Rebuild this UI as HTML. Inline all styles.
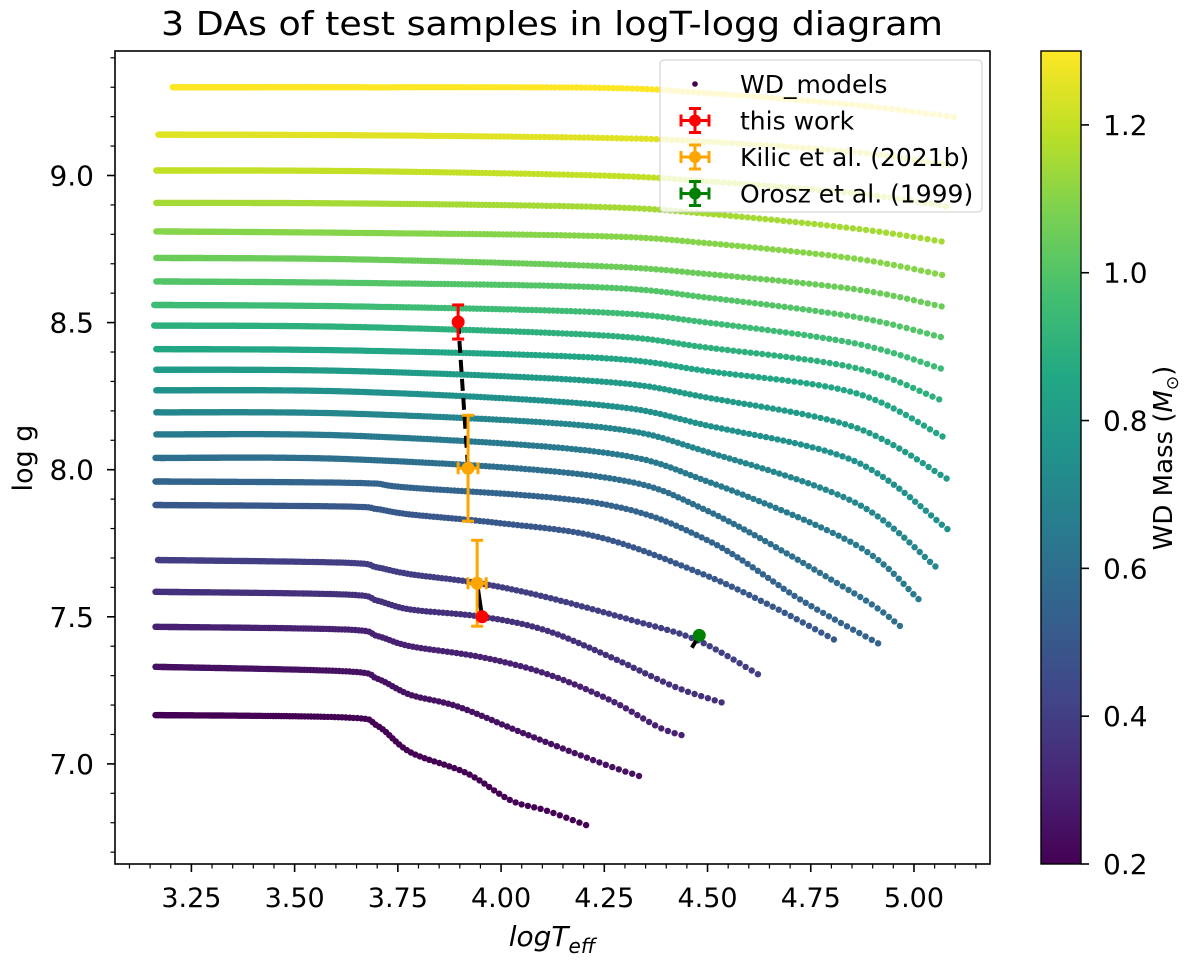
<!DOCTYPE html>
<html><head><meta charset="utf-8"><title>3 DAs of test samples in logT-logg diagram</title>
<style>html,body{margin:0;padding:0;background:#fff;}svg{display:block;font-family:"DejaVu Sans","Liberation Sans",sans-serif;}</style>
</head><body>
<svg id="chart" width="1200" height="963" viewBox="0 0 1200 963" xmlns="http://www.w3.org/2000/svg">
<defs>
<linearGradient id="viridis" x1="0" y1="1" x2="0" y2="0">
<stop offset="0" stop-color="#440154"/><stop offset="0.1" stop-color="#482475"/><stop offset="0.2" stop-color="#414487"/><stop offset="0.3" stop-color="#355f8d"/><stop offset="0.4" stop-color="#2a788e"/><stop offset="0.5" stop-color="#21918c"/><stop offset="0.6" stop-color="#22a884"/><stop offset="0.7" stop-color="#44bf70"/><stop offset="0.8" stop-color="#7ad151"/><stop offset="0.9" stop-color="#bddf26"/><stop offset="1" stop-color="#fde725"/>
</linearGradient>
<clipPath id="plotclip"><rect x="115" y="51" width="875" height="813"/></clipPath>
</defs>
<text x="552" y="35" font-size="33" text-anchor="middle" textLength="782" lengthAdjust="spacingAndGlyphs">3 DAs of test samples in logT-logg diagram</text>
<g id="curves" clip-path="url(#plotclip)"></g>
<g id="links"></g>
<g id="points"></g>
<rect x="115" y="51" width="875" height="813" fill="none" stroke="#000" stroke-width="1.6"/>
<g id="xticks"></g><g id="yticks"></g>
<text transform="translate(32,458) rotate(-90)" font-size="27" text-anchor="middle">log g</text>
<text x="552" y="946" font-size="28" font-style="italic" text-anchor="middle">logT<tspan font-size="20" dy="7">eff</tspan></text>
<g>
<rect x="660" y="60" width="322" height="152" rx="4" fill="#fff" fill-opacity="0.8" stroke="#ccc" stroke-width="1"/>
<g id="legend-entries"></g>
</g>
<rect x="1041" y="51" width="40" height="813" fill="url(#viridis)" stroke="#000" stroke-width="1.4"/>
<g id="cbticks"></g>
<text transform="translate(1172,458) rotate(-90)" font-size="26" text-anchor="middle">WD Mass (<tspan font-style="italic">M</tspan><tspan font-size="17" dy="6">⊙</tspan><tspan dy="-6">)</tspan></text>
</svg>
<script>
// ---- data ----
const masses = [0.2,0.25,0.3,0.35,0.4,0.5,0.55,0.6,0.65,0.7,0.75,0.8,0.85,0.9,0.95,1.0,1.05,1.1,1.15,1.2,1.25,1.3];
const curveT = [
 [3.163,3.62,3.7,3.78,3.916,4.022,4.106,4.206],
 [3.163,3.62,3.7,3.78,3.895,4.053,4.242,4.334],
 [3.163,3.62,3.7,3.78,3.948,4.106,4.264,4.38,4.437],
 [3.163,3.62,3.7,3.78,3.955,4.106,4.264,4.421,4.534],
 [3.169,3.62,3.7,3.78,3.948,4.106,4.316,4.474,4.622],
 [3.163,3.62,3.7,3.78,4.0,4.24,4.48,4.65,4.806],
 [3.163,3.65,3.77,4.24,4.5,4.73,4.913],
 [3.163,3.65,4.24,4.5,4.855,4.966],
 [3.165,3.65,4.24,4.5,4.855,5.011],
 [3.165,3.65,4.24,4.5,4.855,5.052],
 [3.165,3.65,4.24,4.5,4.855,5.081],
 [3.165,3.65,4.24,4.5,4.855,5.079],
 [3.165,3.65,4.24,4.5,4.855,5.069],
 [3.16,3.65,4.24,4.5,4.855,5.061],
 [3.16,3.65,4.24,4.5,4.855,5.065],
 [3.165,3.65,4.24,4.5,4.855,5.065],
 [3.165,3.65,4.24,4.5,4.855,5.067],
 [3.165,3.65,4.24,4.5,4.855,5.068],
 [3.165,3.65,4.24,4.5,4.855,5.067],
 [3.165,3.65,4.24,4.5,4.855,5.077],
 [3.17,3.65,4.24,4.5,4.855,5.085],
 [3.205,3.65,4.24,4.5,4.855,5.097]
];
const curveG = [
 [7.166,7.158,7.13,7.04,6.969,6.877,6.843,6.792],
 [7.33,7.315,7.29,7.235,7.195,7.105,7.003,6.959],
 [7.466,7.457,7.435,7.4,7.364,7.308,7.217,7.126,7.098],
 [7.585,7.576,7.555,7.525,7.50,7.455,7.364,7.262,7.209],
 [7.693,7.684,7.668,7.645,7.614,7.568,7.489,7.421,7.305],
 [7.88,7.875,7.866,7.848,7.818,7.77,7.65,7.54,7.423],
 [7.96,7.955,7.94,7.885,7.76,7.554,7.41],
 [8.04,8.035,7.976,7.86,7.58,7.469],
 [8.12,8.115,8.06,7.96,7.748,7.56],
 [8.195,8.19,8.145,8.06,7.89,7.671],
 [8.27,8.265,8.22,8.15,8.03,7.798],
 [8.34,8.335,8.30,8.245,8.145,7.97],
 [8.41,8.405,8.38,8.335,8.262,8.113],
 [8.49,8.485,8.457,8.415,8.347,8.239],
 [8.56,8.555,8.535,8.50,8.43,8.344],
 [8.64,8.635,8.62,8.585,8.52,8.451],
 [8.72,8.715,8.692,8.665,8.614,8.555],
 [8.81,8.805,8.794,8.77,8.718,8.662],
 [8.907,8.905,8.893,8.87,8.82,8.776],
 [9.017,9.015,9.0,8.98,8.94,8.896],
 [9.139,9.137,9.128,9.115,9.08,9.036],
 [9.30,9.30,9.298,9.28,9.24,9.199]
];
const thisWorkT = [3.896,3.954];
const thisWorkG = [8.502,7.50];
const thisWorkGErr = [0.058,0.0];
const thisWorkTErr = [0.0,0.0];
const kilicT = [3.92,3.942];
const kilicG = [8.005,7.614];
const kilicGErr = [0.18,0.146];
const kilicTErr = [0.024,0.022];
const oroszT = [4.48];
const oroszG = [7.437];
const linkFromT = [3.896,3.954,4.462];
const linkFromG = [8.502,7.50,7.395];
const linkToT = [3.92,3.942,4.48];
const linkToG = [8.005,7.614,7.437];
const xTickVals = [3.25,3.5,3.75,4.0,4.25,4.5,4.75,5.0];
const xTickLabels = ["3.25","3.50","3.75","4.00","4.25","4.50","4.75","5.00"];
const yTickVals = [7.0,7.5,8.0,8.5,9.0];
const yTickLabels = ["7.0","7.5","8.0","8.5","9.0"];
const cbTickVals = [0.2,0.4,0.6,0.8,1.0,1.2];
const cbTickLabels = ["0.2","0.4","0.6","0.8","1.0","1.2"];
const legendLabels = ["WD_models","this work","Kilic et al. (2021b)","Orosz et al. (1999)"];

// ---- scales ----
const X = v => 191.4 + (v - 3.25) * 412.9;
const Y = v => 175.5 + (9 - v) * 294.2;
const C = m => 864 - (m - 0.2) / 1.1 * 813;
const VIR = ["#440154","#482475","#414487","#355f8d","#2a788e","#21918c","#22a884","#44bf70","#7ad151","#bddf26","#fde725"];
function hex(h){return [parseInt(h.substr(1,2),16),parseInt(h.substr(3,2),16),parseInt(h.substr(5,2),16)];}
function viridis(t){t=Math.max(0,Math.min(1,t));const f=t*10,i=Math.min(9,Math.floor(f)),r=f-i;const a=hex(VIR[i]),b=hex(VIR[i+1]);return "rgb("+a.map((c,k)=>Math.round(c+(b[k]-c)*r)).join(",")+")";}
const NS="http://www.w3.org/2000/svg";
function mk(tag,attrs,parent){const e=document.createElementNS(NS,tag);for(const k in attrs)e.setAttribute(k,attrs[k]);parent.appendChild(e);return e;}

// ---- curves ----
const gC=document.getElementById("curves");
masses.forEach((m,ci)=>{
  const P=curveT[ci].map((t,i)=>[X(t),Y(curveG[ci][i])]);
  const fine=[];
  for(let i=0;i<P.length-1;i++){
    const p0=P[Math.max(0,i-1)],p1=P[i],p2=P[i+1],p3=P[Math.min(P.length-1,i+2)];
    for(let s=0;s<20;s++){const t=s/20,t2=t*t,t3=t2*t;
      fine.push([0.5*((2*p1[0])+(-p0[0]+p2[0])*t+(2*p0[0]-5*p1[0]+4*p2[0]-p3[0])*t2+(-p0[0]+3*p1[0]-3*p2[0]+p3[0])*t3),
                 0.5*((2*p1[1])+(-p0[1]+p2[1])*t+(2*p0[1]-5*p1[1]+4*p2[1]-p3[1])*t2+(-p0[1]+3*p1[1]-3*p2[1]+p3[1])*t3)]);}
  }
  fine.push(P[P.length-1]);
  const L=[0];for(let i=1;i<fine.length;i++)L.push(L[i-1]+Math.hypot(fine[i][0]-fine[i-1][0],fine[i][1]-fine[i-1][1]));
  const tot=L[L.length-1];
  const g=mk("g",{fill:viridis((m-0.2)/1.1)},gC);
  
  
  const N=Math.round(tot/3.0);let j=1;
  for(let k=0;k<=N;k++){
    const u=k/N;const d=tot*(u*u*u*0.7+u*0.3);
    while(j<L.length-1&&L[j]<d)j++;
    const r=(d-L[j-1])/((L[j]-L[j-1])||1);
    const px=fine[j-1][0]+(fine[j][0]-fine[j-1][0])*r,py=fine[j-1][1]+(fine[j][1]-fine[j-1][1])*r;
    const c=mk("circle",{cx:px.toFixed(1),cy:py.toFixed(1),r:3.2},g);
    
    
  }
});

// ---- link lines ----
const gL=document.getElementById("links");
linkFromT.forEach((t,i)=>{
  const l=mk("line",{x1:X(t),y1:Y(linkFromG[i]),x2:X(linkToT[i]),y2:Y(linkToG[i]),stroke:"#000","stroke-width":4,"stroke-dasharray":i===0?"12,7":"none"},gL);
  
  
});

// ---- error-bar points ----
const gP=document.getElementById("points");
function errPoint(t,g,te,ge,col,name){
  const grp=mk("g",{stroke:col,fill:col,"stroke-width":3},gP);
  
  
  const cx=X(t),cy=Y(g);
  if(ge>0){const y1=Y(g+ge),y2=Y(g-ge);mk("line",{x1:cx,y1:y1,x2:cx,y2:y2},grp);mk("line",{x1:cx-6,y1:y1,x2:cx+6,y2:y1},grp);mk("line",{x1:cx-6,y1:y2,x2:cx+6,y2:y2},grp);}
  if(te>0){const x1=X(t-te),x2=X(t+te);mk("line",{x1:x1,y1:cy,x2:x2,y2:cy},grp);mk("line",{x1:x1,y1:cy-6,x2:x1,y2:cy+6},grp);mk("line",{x1:x2,y1:cy-6,x2:x2,y2:cy+6},grp);}
  mk("circle",{cx:cx,cy:cy,r:6.5,stroke:"none"},grp);
}
kilicT.forEach((t,i)=>errPoint(t,kilicG[i],kilicTErr[i],kilicGErr[i],"#ffa500","kilic-point"));
thisWorkT.forEach((t,i)=>errPoint(t,thisWorkG[i],thisWorkTErr[i],thisWorkGErr[i],"#ff0000","this-work-point"));
oroszT.forEach((t,i)=>errPoint(t,oroszG[i],0,0,"#008000","orosz-point"));

// ---- ticks ----
const gX=document.getElementById("xticks");
for(let k=0;k<=42;k++){const v=3.1+k*0.05;const x=X(v);if(x<116||x>989)continue;
  const maj=xTickVals.some(t=>Math.abs(t-v)<1e-6);
  const l=mk("line",{x1:x,y1:864,x2:x,y2:864+(maj?8:4.5),stroke:"#000","stroke-width":maj?1.6:1.2},gX);
  
  }
xTickVals.forEach((v,i)=>{const t=mk("text",{x:X(v),y:907,"font-size":27,"text-anchor":"middle"},gX);t.textContent=xTickLabels[i];
  
  });
const gY=document.getElementById("yticks");
for(let k=0;k<=30;k++){const v=6.7+k*0.1;const y=Y(v);if(y<52||y>863)continue;
  const maj=yTickVals.some(t=>Math.abs(t-v)<1e-6);
  const l=mk("line",{x1:115,y1:y,x2:115-(maj?8:4.5),y2:y,stroke:"#000","stroke-width":maj?1.6:1.2},gY);
  
  }
yTickVals.forEach((v,i)=>{const t=mk("text",{x:94,y:Y(v)+10,"font-size":28,"text-anchor":"end"},gY);t.textContent=yTickLabels[i];
  
  });
const gCB=document.getElementById("cbticks");
cbTickVals.forEach((v,i)=>{const y=C(v);
  const l=mk("line",{x1:1081,y1:y,x2:1089,y2:y,stroke:"#000","stroke-width":1.6},gCB);
  
  
  const t=mk("text",{x:1103,y:y+10,"font-size":28},gCB);t.textContent=cbTickLabels[i];
  
  });

// ---- legend ----
const gLe=document.getElementById("legend-entries");
const legCols=["#440154","#ff0000","#ffa500","#008000"];
legendLabels.forEach((lab,i)=>{
  const y=84+i*36.5;
  const g=mk("g",{},gLe);
  
  
  if(i===0){mk("circle",{cx:695,cy:y,r:2.8,fill:legCols[0]},g);}
  else{const gg=mk("g",{stroke:legCols[i],fill:legCols[i],"stroke-width":3},g);
    mk("line",{x1:681,y1:y,x2:709,y2:y},gg);mk("line",{x1:695,y1:y-12,x2:695,y2:y+12},gg);
    mk("line",{x1:681,y1:y-6,x2:681,y2:y+6},gg);mk("line",{x1:709,y1:y-6,x2:709,y2:y+6},gg);
    mk("line",{x1:689,y1:y-12,x2:701,y2:y-12},gg);mk("line",{x1:689,y1:y+12,x2:701,y2:y+12},gg);
    mk("circle",{cx:695,cy:y,r:6,stroke:"none"},gg);}
  const t=mk("text",{x:740,y:y+9,"font-size":25},g);t.textContent=lab;
});
</script>
</body></html>
